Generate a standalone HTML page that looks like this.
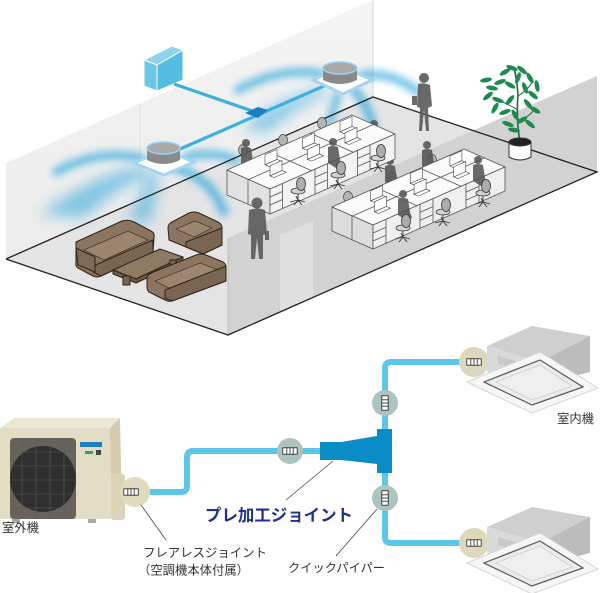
<!DOCTYPE html>
<html><head><meta charset="utf-8"><style>
html,body{margin:0;padding:0;background:#fff;}
svg{display:block;}
text{font-family:"Liberation Sans","Noto Sans CJK JP",sans-serif;}
</style></head><body>
<svg width="600" height="593" viewBox="0 0 600 593" xmlns="http://www.w3.org/2000/svg">
<defs>
 <filter id="bl" x="-50%" y="-50%" width="200%" height="200%"><feGaussianBlur stdDeviation="4"/></filter>
 <filter id="bl2" x="-50%" y="-50%" width="200%" height="200%"><feGaussianBlur stdDeviation="7"/></filter>
 <linearGradient id="wallg" x1="0" y1="0" x2="0" y2="1"><stop offset="0" stop-color="#f4f4f4"/><stop offset="1" stop-color="#ebebeb"/></linearGradient>
 <g id="chair">
  <g stroke="#333" stroke-width="0.9" fill="none">
   <line x1="0" y1="-3" x2="-8" y2="-1"/><line x1="0" y1="-3" x2="7" y2="-1"/>
   <line x1="0" y1="-3" x2="-4" y2="2"/><line x1="0" y1="-3" x2="4" y2="2"/>
   <line x1="0" y1="-3" x2="-2" y2="-7"/><line x1="0" y1="-3" x2="0" y2="-11"/>
  </g>
  <ellipse cx="0" cy="-12" rx="7" ry="3" fill="#d2d2d2" stroke="#333" stroke-width=".8"/>
  <ellipse cx="3" cy="-19" rx="4.5" ry="6.5" fill="#acacac" stroke="#333" stroke-width=".8"/>
 </g>
 <g id="lap" fill="#fff" stroke="#444" stroke-width=".6">
  <path d="M0,0 L4,1.8 L16,-3.5 L12,-5.3 Z"/>
  <path d="M0,0 L12,-5.3 L12,-15.3 L0,-10 Z"/>
 </g>
 <g id="sp" fill="#555" opacity=".88">
  <circle cx="0" cy="0" r="4"/>
  <path d="M-5,5 Q0,3 5,5 L7,18 L9,24 L3,26 L-5,21 Z"/>
 </g>
 <g id="conn">
  <rect x="-9" y="-4" width="18" height="8" fill="#fff" stroke="#222" stroke-width="1"/>
  <g stroke="#222" stroke-width="1"><line x1="-4" y1="-4" x2="-4" y2="4"/><line x1="0" y1="-4" x2="0" y2="4"/><line x1="4" y1="-4" x2="4" y2="4"/></g>
 </g>
</defs>

<!-- left wall -->
<polygon points="6,163 373,0 373,97 6,259" fill="url(#wallg)"/>
<line x1="373" y1="0" x2="373" y2="97" stroke="#d8d8d8" stroke-width="1"/>
<line x1="140" y1="104" x2="140" y2="200" stroke="#e2e2e2" stroke-width="1"/>
<!-- floor -->
<polygon points="6,259 373,97 597,172 228,335" fill="#e4e4e4"/>

<!-- plumes -->
<g filter="url(#bl)" fill="none" stroke="#2aa6dc" stroke-linecap="round" opacity=".72">
 <path d="M142,158 Q100,148 56,172" stroke-width="8"/>
 <path d="M186,157 Q212,150 236,160" stroke-width="8"/>
 <path d="M174,168 Q210,176 224,212" stroke-width="9"/>
 <path d="M322,74 Q282,66 238,90" stroke-width="8"/>
 <path d="M362,75 Q394,72 418,92" stroke-width="8"/>
 <path d="M354,90 Q369,106 373,128" stroke-width="9"/>
 <path d="M338,94 Q334,110 328,124" stroke-width="7"/>
</g>
<g filter="url(#bl2)" fill="#2aa6dc" opacity=".55">
 <path d="M140,166 Q90,176 40,214 L84,218 Q112,192 152,172 Z"/>
 <path d="M150,172 Q140,198 128,222 L150,222 Q156,198 160,174 Z"/>
 <path d="M322,88 Q280,98 242,128 L268,132 Q296,106 332,92 Z"/>
</g>

<!-- ceiling equipment -->
<polygon points="144,60 157,65 183,50 172,46" fill="#8fd4ee" stroke="#fff" stroke-width="1"/>
<polygon points="144,60 157,65 157,91 144,86" fill="#6cc6e6" stroke="#fff" stroke-width="1"/>
<polygon points="157,65 183,50 183,80 157,91" fill="#55bde2" stroke="#fff" stroke-width="1"/>
<line x1="174" y1="84" x2="258" y2="113" stroke="#3cb0e0" stroke-width="3.2"/>
<line x1="180" y1="149" x2="324" y2="86" stroke="#3cb0e0" stroke-width="3.2"/>
<polygon points="245,113 258,107 268,110 258,118" fill="#1a7fc0"/>
<!-- left cassette -->
<polygon points="134,163 164,150 194,162 164,175" fill="#fff" stroke="#a6d4f2" stroke-width="3"/>
<path d="M147,148 V160 Q163.5,168 180,160 V148 Z" fill="#8a8a8a"/>
<ellipse cx="163.5" cy="148" rx="16.5" ry="6" fill="#a9a9a9" stroke="#9cd0f0" stroke-width="1.5"/>
<!-- right cassette -->
<polygon points="313,80 343,67 372,80 343,94" fill="#fff" stroke="#a6d4f2" stroke-width="3"/>
<path d="M323,68 V80 Q340,88 357,80 V68 Z" fill="#8a8a8a"/>
<ellipse cx="340" cy="68" rx="17" ry="6" fill="#a9a9a9" stroke="#9cd0f0" stroke-width="1.5"/>

<!-- sofas -->
<g stroke="#2e2318" stroke-width="1" stroke-linejoin="round">
 <path d="M76,242 L122,221 Q128,219 134,222 L151,231 Q155,233 154,238 L153,252 L101,276 Q97,278 93,276 L78,268 Q75,266 76,262 Z" fill="#8b7560"/>
 <path d="M84,250 L128,231 L148,240 L104,260 Z" fill="#9b856e" stroke-width=".6"/>
 <path d="M93,266 L153,240 L153,252 L101,276 L93,272 Z" fill="#7a6552"/>
 <path d="M76,248 L95,257 L95,272 L78,265 Z" fill="#806a56"/>
 <path d="M168,228 Q168,224 172,222 L189,213 Q194,211 199,213 L218,222 Q222,224 222,228 L222,245 L203,254 L169,240 Z" fill="#8b7560"/>
 <path d="M176,229 L195,221 L212,228 L194,237 Z" fill="#9b856e" stroke-width=".6"/>
 <path d="M186,242 L222,228 L222,245 L203,254 L186,247 Z" fill="#7a6552"/>
 <path d="M113,270 L160,249 L183,257 L136,279 Z" fill="#8f7a64"/>
 <path d="M113,270 L136,279 L183,257 L183,261 L136,283 L113,274 Z" fill="#6e5a48"/>
 <rect x="123" y="276" width="7" height="9" fill="#7a6552"/>
 <rect x="170" y="260" width="6" height="8" fill="#7a6552"/>
 <path d="M147,279 Q147,275 151,273 L196,255 Q201,253 206,255 L223,262 Q226,264 226,268 L226,281 L172,301 Q168,302 165,300 L149,292 Q147,290 147,287 Z" fill="#8b7560"/>
 <path d="M155,281 L200,263 L218,270 L173,290 Z" fill="#9b856e" stroke-width=".6"/>
 <path d="M165,290 L226,266 L226,281 L172,301 L165,298 Z" fill="#7a6552"/>
</g>

<!-- front wall (cutaway) -->
<polygon points="228,238 597,76 597,172 228,335" fill="#d2d2d2"/>
<polygon points="280,235 313,221 313,297 280,311" fill="#dfdfdf"/>
<line x1="228" y1="238" x2="228" y2="335" stroke="#bdbdbd" stroke-width="1"/>

<!-- floor outline -->
<g stroke="#222" stroke-width="1.3" fill="none">
 <polyline points="6,259 373,97 597,172 228,335 6,259"/>
</g>

<!-- back chairs -->
<g fill="#b5b5b5" stroke="#444" stroke-width=".7">
 <ellipse cx="243" cy="150" rx="4.5" ry="5.5"/>
 <ellipse cx="283" cy="140" rx="4.5" ry="5.5"/>
 <ellipse cx="322" cy="123" rx="4.5" ry="5.5"/>
 <ellipse cx="348" cy="197" rx="4.5" ry="5.5"/>
 <ellipse cx="392" cy="178" rx="4.5" ry="5.5"/>
 <ellipse cx="432" cy="160" rx="4.5" ry="5.5"/>
</g>
<!-- back seated people -->
<use href="#sp" x="246" y="143"/>
<use href="#sp" x="374" y="124"/>
<use href="#sp" x="390" y="161"/>
<use href="#sp" x="427" y="145"/>

<!-- island 1 -->
<g stroke="#555" stroke-width=".8" stroke-linejoin="round">
 <polygon points="227,170 270,189 395,134 352,115" fill="#fbfbfb"/>
 <polygon points="227,170 270,189 270,214 227,195" fill="#e2e2e2"/>
 <line x1="248" y1="179" x2="248" y2="204"/>
 <polygon points="270,189 395,134 395,159 270,214" fill="#f3f3f3"/>
 <line x1="248.5" y1="179.5" x2="373.5" y2="124.5"/>
 <line x1="268.7" y1="151.7" x2="311.7" y2="170.7"/>
 <line x1="310.3" y1="133.3" x2="353.3" y2="152.3"/>
 <line x1="282.5" y1="183.5" x2="282.5" y2="208.5"/>
 <line x1="270" y1="197" x2="282.5" y2="191.5"/><line x1="270" y1="205" x2="282.5" y2="199.5"/>
 <line x1="315" y1="169.2" x2="315" y2="194.2"/><line x1="327.5" y1="163.7" x2="327.5" y2="188.7"/>
 <line x1="315" y1="177.2" x2="327.5" y2="171.7"/><line x1="315" y1="185.2" x2="327.5" y2="179.7"/>
 <line x1="357.5" y1="150.5" x2="357.5" y2="175.5"/><line x1="370" y1="145" x2="370" y2="170"/>
 <line x1="357.5" y1="158.5" x2="370" y2="153"/><line x1="357.5" y1="166.5" x2="370" y2="161"/>
</g>
<use href="#lap" x="265" y="164.7"/><use href="#lap" x="302.5" y="148.2"/><use href="#lap" x="340" y="131.7"/>
<use href="#lap" x="270" y="175.8"/><use href="#lap" x="307.5" y="159.3"/><use href="#lap" x="345" y="142.8"/>
<use href="#chair" x="298" y="203"/>
<use href="#sp" x="333" y="142"/>
<use href="#chair" x="338" y="187"/>
<use href="#chair" x="378" y="170"/>

<!-- island 2 -->
<g stroke="#555" stroke-width=".8" stroke-linejoin="round">
 <polygon points="332,207 373,225 505,167 464,149" fill="#fbfbfb"/>
 <polygon points="332,207 373,225 373,249 332,231" fill="#dcdcdc"/>
 <line x1="352" y1="216" x2="352" y2="240"/>
 <polygon points="373,225 505,167 505,191 373,249" fill="#efefef"/>
 <line x1="352.5" y1="216" x2="484.5" y2="158"/>
 <line x1="376" y1="187.7" x2="417" y2="205.7"/>
 <line x1="420" y1="168.3" x2="461" y2="186.3"/>
 <line x1="386" y1="219.3" x2="386" y2="243.3"/>
 <line x1="373" y1="233" x2="386" y2="227.3"/><line x1="373" y1="241" x2="386" y2="235.3"/>
 <line x1="420" y1="204.3" x2="420" y2="228.3"/><line x1="433" y1="198.6" x2="433" y2="222.6"/>
 <line x1="420" y1="212.3" x2="433" y2="206.6"/><line x1="420" y1="220.3" x2="433" y2="214.6"/>
 <line x1="466" y1="184.1" x2="466" y2="208.1"/><line x1="479" y1="178.4" x2="479" y2="202.4"/>
 <line x1="466" y1="192.1" x2="479" y2="186.4"/><line x1="466" y1="200.1" x2="479" y2="194.4"/>
</g>
<use href="#lap" x="370.7" y="200.8"/><use href="#lap" x="410.3" y="183.4"/><use href="#lap" x="449.9" y="166"/>
<use href="#lap" x="374.5" y="211.7"/><use href="#lap" x="414.1" y="194.3"/><use href="#lap" x="453.7" y="176.9"/>
<use href="#sp" x="403" y="194"/>
<use href="#sp" x="478" y="160"/>
<use href="#chair" x="403" y="240"/>
<use href="#chair" x="443" y="224"/>
<use href="#chair" x="483" y="205"/>

<!-- standing people -->
<g fill="#5a5a5a" opacity=".9">
 <circle cx="424" cy="78" r="5"/>
 <path d="M418,84 Q424,82 430,85 L432,106 L428,108 L429,131 L426,131 L424,110 L422,131 L419,131 L420,108 L417,107 Z"/>
 <rect x="412" y="96" width="5" height="9"/>
 <circle cx="257" cy="203" r="5.5"/>
 <path d="M249,210 Q257,207 265,210 L267,234 L263,235 L263,259 L259,259 L257,238 L255,259 L251,259 L251,235 L248,234 Z"/>
 <rect x="265" y="231" width="4" height="9"/>
</g>

<!-- plant -->
<path d="M520,142 Q516,120 518,95 Q517,80 514,68" stroke="#1c6a3c" stroke-width="1.6" fill="none"/>
<path d="M518,110 Q508,104 498,100 M518,96 Q528,90 532,82 M518,120 Q528,118 534,110" stroke="#1c6a3c" stroke-width="1" fill="none"/>
<g fill="#1e8a4e">
 <ellipse cx="505" cy="72" rx="6" ry="2.3" transform="rotate(-30 505 72)"/>
 <ellipse cx="512" cy="68" rx="6" ry="2.3" transform="rotate(20 512 68)"/>
 <ellipse cx="522" cy="70" rx="6" ry="2.3" transform="rotate(40 522 70)"/>
 <ellipse cx="530" cy="78" rx="6" ry="2.3" transform="rotate(60 530 78)"/>
 <ellipse cx="500" cy="82" rx="6" ry="2.3" transform="rotate(-20 500 82)"/>
 <ellipse cx="492" cy="88" rx="6" ry="2.3" transform="rotate(10 492 88)"/>
 <ellipse cx="488" cy="96" rx="6" ry="2.3" transform="rotate(-40 488 96)"/>
 <ellipse cx="510" cy="85" rx="6" ry="2.3" transform="rotate(30 510 85)"/>
 <ellipse cx="525" cy="88" rx="6" ry="2.3" transform="rotate(70 525 88)"/>
 <ellipse cx="533" cy="95" rx="6" ry="2.3" transform="rotate(40 533 95)"/>
 <ellipse cx="498" cy="100" rx="6" ry="2.3" transform="rotate(20 498 100)"/>
 <ellipse cx="510" cy="100" rx="6" ry="2.3" transform="rotate(-50 510 100)"/>
 <ellipse cx="528" cy="104" rx="6" ry="2.3" transform="rotate(50 528 104)"/>
 <ellipse cx="535" cy="110" rx="6" ry="2.3" transform="rotate(30 535 110)"/>
 <ellipse cx="505" cy="112" rx="6" ry="2.3" transform="rotate(-20 505 112)"/>
 <ellipse cx="515" cy="115" rx="6" ry="2.3" transform="rotate(60 515 115)"/>
 <ellipse cx="522" cy="120" rx="6" ry="2.3" transform="rotate(-30 522 120)"/>
 <ellipse cx="530" cy="124" rx="6" ry="2.3" transform="rotate(40 530 124)"/>
 <ellipse cx="508" cy="124" rx="6" ry="2.3" transform="rotate(20 508 124)"/>
 <ellipse cx="495" cy="108" rx="6" ry="2.3" transform="rotate(-60 495 108)"/>
 <ellipse cx="518" cy="78" rx="6" ry="2.3" transform="rotate(-70 518 78)"/>
 <ellipse cx="486" cy="80" rx="6" ry="2.3" transform="rotate(-10 486 80)"/>
 <ellipse cx="537" cy="86" rx="6" ry="2.3" transform="rotate(80 537 86)"/>
 <ellipse cx="514" cy="130" rx="6" ry="2.3" transform="rotate(10 514 130)"/>
</g>
<path d="M509,142 V157 Q520,163 531,157 V142" fill="#fff" stroke="#333" stroke-width="1"/>
<ellipse cx="520" cy="142" rx="11" ry="4" fill="#222" stroke="#333" stroke-width="1"/>

<!-- ===== bottom diagram ===== -->
<!-- outdoor unit -->
<polygon points="0,428 14,418 120,418 110,428" fill="#ece6d2"/>
<rect x="0" y="428" width="111" height="91" fill="#e4ddc5"/>
<polygon points="110,428 120,418 122,510 112,519" fill="#d5cbae"/>
<rect x="111" y="474" width="14" height="46" rx="3" fill="#dcd3b8"/>
<rect x="10" y="438" width="66" height="81" rx="4" fill="#67635a"/>
<circle cx="43" cy="479" r="33" fill="#2f2f2f"/>
<g stroke="#5a5a5a" stroke-width=".6">
 <line x1="10" y1="452" x2="76" y2="452"/><line x1="10" y1="466" x2="76" y2="466"/><line x1="10" y1="480" x2="76" y2="480"/><line x1="10" y1="494" x2="76" y2="494"/><line x1="10" y1="508" x2="76" y2="508"/>
 <line x1="22" y1="438" x2="22" y2="519"/><line x1="36" y1="438" x2="36" y2="519"/><line x1="50" y1="438" x2="50" y2="519"/><line x1="64" y1="438" x2="64" y2="519"/>
</g>
<rect x="80" y="442" width="22" height="5" fill="#1e7fc0"/>
<rect x="85" y="451" width="8" height="3" fill="#3aa04a"/>
<rect x="96" y="450" width="5" height="5" fill="#444"/>
<rect x="12" y="519" width="8" height="4" fill="#aaa"/>
<rect x="88" y="519" width="8" height="4" fill="#aaa"/>

<!-- pipes -->
<g fill="none" stroke="#5bc6ea" stroke-width="6" stroke-linejoin="round">
 <path d="M138,492 H181 Q187,492 187,486 V457 Q187,451 193,451 H322"/>
 <path d="M385,440 V368 Q385,362 391,362 H470"/>
 <path d="M385,460 V537 Q385,543 391,543 H470"/>
</g>
<!-- joint body -->
<path d="M320,442 H341 L377,436 V429 H392 V473 H377 V464 L341,460 H320 Z" fill="#0a8cc6"/>

<!-- circles -->
<circle cx="135" cy="492" r="15" fill="#e0dbbf"/>
<use href="#conn" transform="translate(131,492) scale(0.8)"/>
<circle cx="290" cy="451" r="13" fill="#adc3bf"/>
<use href="#conn" transform="translate(290,451) scale(0.8)"/>
<circle cx="385" cy="403" r="13" fill="#adc3bf"/>
<use href="#conn" transform="translate(385,403) rotate(90) scale(0.8)"/>
<circle cx="385" cy="498" r="13" fill="#adc3bf"/>
<use href="#conn" transform="translate(385,498) rotate(90) scale(0.8)"/>
<circle cx="474" cy="362" r="15" fill="#ddd8bc"/>
<use href="#conn" transform="translate(474,362) scale(0.8)"/>
<circle cx="474" cy="543" r="15" fill="#ddd8bc"/>
<use href="#conn" transform="translate(474,543) scale(0.8)"/>

<!-- indoor units -->
<g id="iu">
 <polygon points="487,346 532,326 590,336 540,362" fill="#cfcfcf"/>
 <polygon points="487,346 540,362 540,385 487,372" fill="#d9d9d9"/>
 <polygon points="540,362 590,336 590,372 540,385" fill="#bcbcbc"/>
 <polygon points="498,356 526,364 526,372 498,364" fill="#c9c9c9"/>
 <polygon points="467,382 540,352 598,388 532,413" fill="#f6f6f6" stroke="#d6d6d6" stroke-width="1"/>
 <polygon points="484,382 540,360 583,387 532,405" fill="#ebebeb" stroke="#555" stroke-width="1.2"/>
 <polygon points="496,382 540,365 572,386 532,400" fill="#efefef" stroke="#c4c4c4" stroke-width=".6"/>
</g>
<use href="#iu" y="181"/>

<!-- leader lines -->
<g stroke="#444" stroke-width=".8">
 <line x1="141" y1="505" x2="166" y2="540"/>
 <line x1="333" y1="461" x2="286" y2="500"/>
 <line x1="377" y1="509" x2="336" y2="556"/>
</g>

<!-- labels -->
<text x="205" y="521" font-size="16.5" font-weight="bold" fill="#1f2f8c" textLength="148" lengthAdjust="spacingAndGlyphs">プレ加工ジョイント</text>
<text x="143" y="557" font-size="12.4" fill="#333" textLength="124" lengthAdjust="spacingAndGlyphs">フレアレスジョイント</text>
<text x="138" y="574.5" font-size="12.4" fill="#333" textLength="111" lengthAdjust="spacingAndGlyphs">（空調機本体付属）</text>
<text x="288" y="572" font-size="12.2" fill="#333" textLength="97" lengthAdjust="spacingAndGlyphs">クイックパイパー</text>
<text x="2" y="532" font-size="12.5" fill="#333" textLength="37" lengthAdjust="spacingAndGlyphs">室外機</text>
<text x="557" y="423" font-size="12.5" fill="#333" textLength="37" lengthAdjust="spacingAndGlyphs">室内機</text>
</svg>
</body></html>
